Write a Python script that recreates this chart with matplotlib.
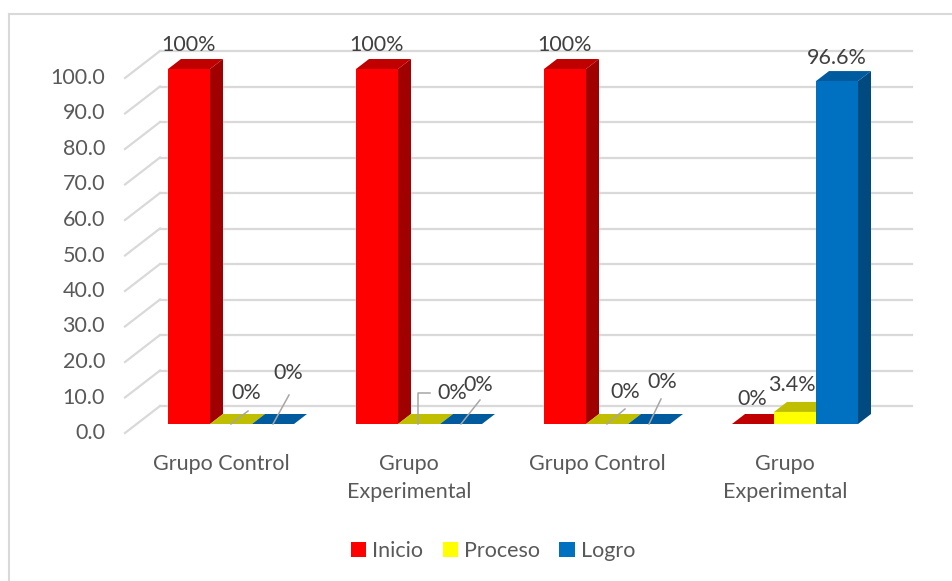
import matplotlib
matplotlib.use("Agg")
import matplotlib.pyplot as plt
from matplotlib.patches import Polygon, Patch
from matplotlib.lines import Line2D

# ---------------- data ----------------
categories = ["Grupo Control", "Grupo\nExperimental", "Grupo Control", "Grupo\nExperimental"]
series_names = ["Inicio", "Proceso", "Logro"]
inicio = [100, 100, 100, 0]
proceso = [0, 0, 0, 3.4]
logro = [0, 0, 0, 96.6]
yticks = [0, 10, 20, 30, 40, 50, 60, 70, 80, 90, 100]

series = [inicio, proceso, logro]

# ---------------- style ----------------
front_col = ["#FF0000", "#FFFF00", "#0070C0"]
top_col = ["#C00000", "#BFBF00", "#005A9E"]
side_col = ["#A00000", "#A6A600", "#004A80"]
grid_col = "#D9D9D9"
text_col = "#595959"
lab_col = "#404040"
FONT = "Lato"
FS = 15.5
plt.rcParams["font.family"] = [FONT, "DejaVu Sans"]

# label offsets (pixels) relative to (bar centre, value): [series][group]
lab_off = [
    [(0, 24), (0, 24), (0, 24), (-1, 25)],
    [(15, 31), (33, 31), (18, 32), (-3, 27)],
    [(15, 51), (17, 39), (13, 42), (0, 23)],
]
# leader lines (pixel polylines) or None
leaders = [
    [None, None, None, None],
    [[(0, 0), (17, 13)], [(-1, 0), (-1, 31), (11, 31)], [(0, 0), (18, 15)], None],
    [[(0, 0), (16, 29)], [(0, 0), (19, 24)], [(0, 0), (12, 25)], None],
]

W, H = 953, 581
fig = plt.figure(figsize=(W / 100, H / 100), dpi=100)
fig.patch.set_facecolor("white")

# axes = plane of the bar front faces
AX_L, AX_R, AX_B, AX_T = 137, 889, 424, 69
ax = fig.add_axes([AX_L / W, (H - AX_B) / H, (AX_R - AX_L) / W, (AX_B - AX_T) / H])
ax.set_xlim(-0.5, len(categories) - 0.5)
ax.set_ylim(0, 100)
ax.axis("off")

sx = (AX_R - AX_L) / len(categories)   # px per x unit
sy = (AX_B - AX_T) / 100.0             # px per y unit


def px(dx, dy):
    return dx / sx, dy / sy


# depth offsets (px)
DX, DY = 13, 10          # bar depth
BX, BY = 23, 18          # back wall vs bar plane
FX, FY = -12, -9         # front plane vs bar plane

x0, x1 = ax.get_xlim()
# back-wall gridlines + left diagonals
for v in yticks:
    bx, by = px(BX, BY)
    fx, fy = px(FX, FY)
    ax.add_line(Line2D([x0 + bx, x1 + bx], [v + by, v + by], color=grid_col, lw=1.6,
                       zorder=1, clip_on=False))
    ax.add_line(Line2D([x0 + fx, x0 + bx], [v + fy, v + by], color=grid_col, lw=1.6,
                       zorder=1, clip_on=False))
    ax.text(x0 - 32 / sx, v + fy, f"{v:.1f}", ha="right", va="center",
            fontsize=FS, color=text_col)

# category labels
for i, c in enumerate(categories):
    ax.text(i - 10 / sx, -30 / sy, c, ha="center", va="top", fontsize=FS,
            color=text_col, linespacing=1.5)

# bars
bw = 42 / sx
ddx, ddy = px(DX, DY)
z = 5
for g in range(len(categories)):
    for s in range(len(series)):
        v = series[s][g]
        xc = g + (s - 1) * bw
        xl, xr = xc - bw / 2, xc + bw / 2
        if v > 0:
            side = Polygon([(xr, 0), (xr + ddx, ddy), (xr + ddx, v + ddy), (xr, v)],
                           closed=True, facecolor=side_col[s], edgecolor="none",
                           zorder=z, clip_on=False)
            ax.add_patch(side)
        top = Polygon([(xl, v), (xr, v), (xr + ddx, v + ddy), (xl + ddx, v + ddy)],
                      closed=True, facecolor=top_col[s], edgecolor="none",
                      zorder=z + 1, clip_on=False)
        ax.add_patch(top)
        if v > 0:
            ax.bar(xc, v, width=bw, color=front_col[s], zorder=z + 2, clip_on=False)
        z += 3

# data labels
for s in range(len(series)):
    for g in range(len(categories)):
        v = series[s][g]
        xc = g + (s - 1) * bw
        ox, oy = px(*lab_off[s][g])
        ax.text(xc + ox, v + oy, f"{v:g}%", ha="center", va="center", fontsize=FS,
                color=lab_col, zorder=200)
        if leaders[s][g]:
            pts = [px(a, b) for a, b in leaders[s][g]]
            ax.add_line(Line2D([xc + p[0] for p in pts], [v + p[1] for p in pts],
                               color="#A6A6A6", lw=1.1, zorder=199, clip_on=False))

# legend
handles = [Patch(facecolor=front_col[i], edgecolor="none", label=series_names[i])
           for i in range(3)]
leg = fig.legend(handles=handles, loc="center", bbox_to_anchor=(493 / W, 1 - 551 / H),
                 ncol=3, frameon=False, fontsize=FS, handlelength=0.7,
                 handleheight=0.7, handletextpad=0.3, columnspacing=0.9)
for t in leg.get_texts():
    t.set_color(text_col)

# chart border
fig.add_artist(Line2D([9 / W, 9 / W], [0, 1 - 14 / H], color=grid_col, lw=1.5,
                      transform=fig.transFigure))
fig.add_artist(Line2D([9 / W, 1], [1 - 14 / H, 1 - 14 / H], color=grid_col, lw=1.5,
                      transform=fig.transFigure))

fig.savefig("out.png", dpi=100, facecolor="white")
